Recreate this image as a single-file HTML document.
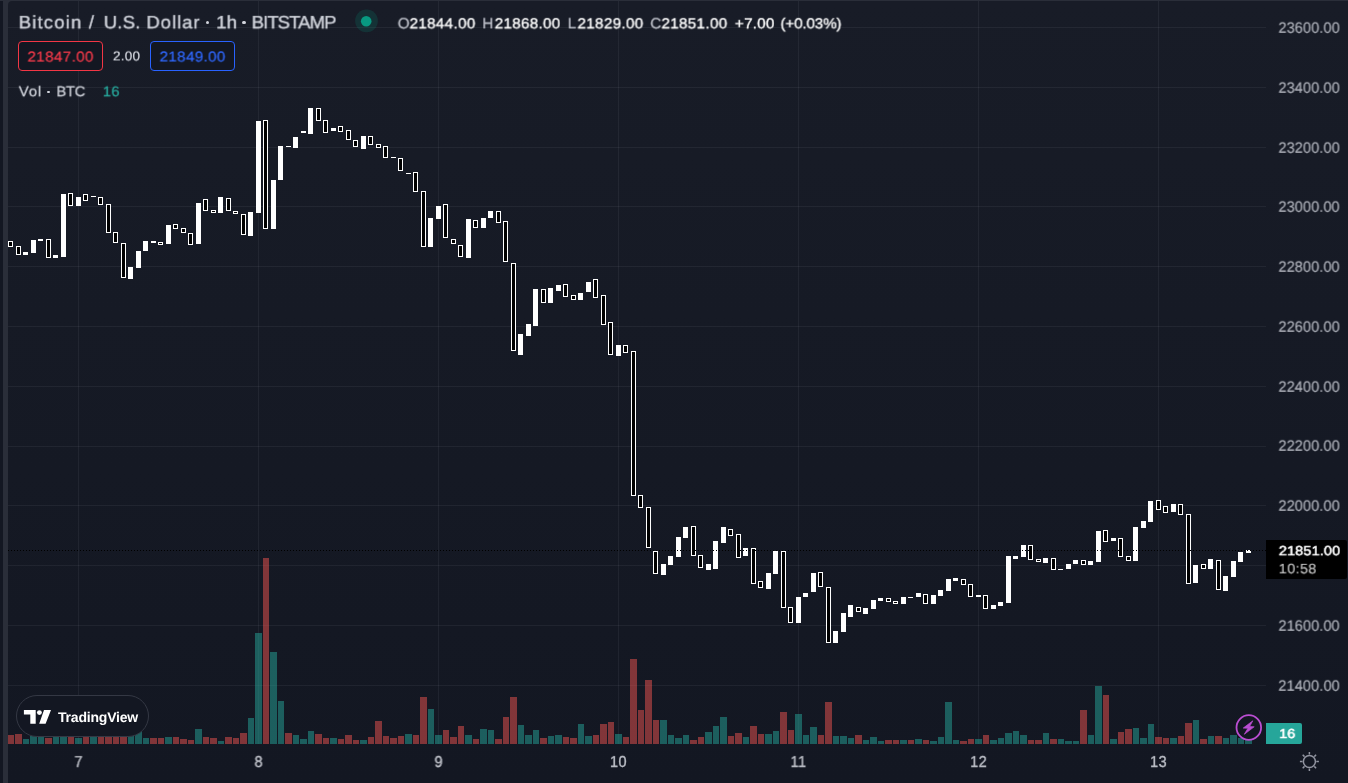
<!DOCTYPE html>
<html><head><meta charset="utf-8"><title>BTCUSD</title>
<style>
html,body{margin:0;padding:0;background:#131722}
body{width:1348px;height:783px;overflow:hidden;background:#131722;position:relative;font-family:"Liberation Sans",sans-serif}
.topb{position:absolute;left:0;top:0;width:1348px;height:1px;background:#2a2e39}
.leftb{position:absolute;left:3px;top:0;width:5px;height:783px;background:#2a2e39}
.pane{position:absolute;left:8px;top:1px;width:1340px;height:782px;background:linear-gradient(180deg,#181c27 0%,#131722 100%);border-top-left-radius:4px}
.cv{position:absolute;left:0;top:0}
.t{position:absolute;white-space:nowrap;line-height:18px;height:18px;will-change:transform;text-rendering:geometricPrecision;transform-origin:0 50%}
.ax{font-size:14.6px;letter-spacing:0.1px;color:#b2b5be;transform-origin:50% 50%;transform:translateY(1px) scaleY(1.13)}
.day{font-size:14.6px;color:#b2b5be;width:40px;text-align:center;transform-origin:50% 50%;transform:scaleY(1.08)}
.g-title{font-size:18.60px;color:#d1d4dc;-webkit-text-stroke:0.35px #d1d4dc}
.g-ohlcL{font-size:15.30px;color:#c1c4cd;-webkit-text-stroke:0.2px #c1c4cd}
.g-ohlcV{font-size:15.30px;color:#ffffff;-webkit-text-stroke:0.3px #ffffff}
.g-sell{font-size:15.30px;color:#f73949;-webkit-text-stroke:0.18px #f73949}
.g-buy{font-size:15.30px;color:#2e67ff;-webkit-text-stroke:0.18px #2e67ff}
.g-spread{font-size:13.60px;color:#d8dbe3;-webkit-text-stroke:0.2px #d8dbe3}
.g-vol{font-size:14.80px;color:#d1d4dc;-webkit-text-stroke:0.25px #d1d4dc}
.g-volv{font-size:14.80px;color:#26a69a;-webkit-text-stroke:0.25px #26a69a}
.g-pl1{font-size:14.60px;color:#ffffff;-webkit-text-stroke:0.5px #ffffff}
.g-pl2{font-size:14.60px;color:#c8c8c8;-webkit-text-stroke:0.1px #c8c8c8}
.g-vl{font-size:14.60px;color:#ffffff;-webkit-text-stroke:0.55px #ffffff}
.g-ax{font-size:14.60px;color:#b2b5be;-webkit-text-stroke:0.12px #b2b5be}
.g-day{font-size:14.60px;color:#c0c3cb;-webkit-text-stroke:0.3px #c0c3cb}

.dot{position:absolute;left:355px;top:9.4px;width:23px;height:23px;border-radius:50%;background:rgba(8,153,129,0.18)}
.dot i{position:absolute;left:5.95px;top:6.5px;width:10.5px;height:10.5px;border-radius:50%;background:#089981}
.mdot{position:absolute;width:3.4px;height:3.4px;border-radius:50%;background:#d1d4dc}
.box{position:absolute;top:41px;width:83px;height:28px;border:1px solid;border-radius:4px;background:#131722}
.sellb{left:18px;border-color:#f23645}
.buyb{left:150px;border-color:#2962ff}
.plabel{position:absolute;left:1266px;top:540px;width:81px;height:39px;background:#000;border-radius:0 2px 2px 0}
.vlabel{position:absolute;left:1266px;top:723px;width:36px;height:21px;background:#26a69a;border-radius:0 2px 2px 0}
.pill{position:absolute;left:16px;top:695px;width:131px;height:40px;border:1px solid #343844;border-radius:21px;background:#131722}
.pill svg{position:absolute;left:7px;top:11px}
.pill .t{left:41px;top:12px;font-size:14px;font-weight:bold;color:#fff;letter-spacing:-0.2px}
</style></head><body>
<div class="topb"></div><div class="leftb"></div><div style="position:absolute;left:8px;top:1px;width:6px;height:6px;background:#2a2e39"></div><div class="pane"></div>
<svg class="cv" width="1348" height="783" viewBox="0 0 1348 783" shape-rendering="crispEdges"><g fill="#f0f3fa" fill-opacity="0.06"><rect x="8" y="27" width="1258" height="1"/><rect x="8" y="87" width="1258" height="1"/><rect x="8" y="147" width="1258" height="1"/><rect x="8" y="206" width="1258" height="1"/><rect x="8" y="266" width="1258" height="1"/><rect x="8" y="326" width="1258" height="1"/><rect x="8" y="386" width="1258" height="1"/><rect x="8" y="446" width="1258" height="1"/><rect x="8" y="505" width="1258" height="1"/><rect x="8" y="565" width="1258" height="1"/><rect x="8" y="625" width="1258" height="1"/><rect x="8" y="685" width="1258" height="1"/><rect x="78" y="1" width="1" height="743"/><rect x="258" y="1" width="1" height="743"/><rect x="438" y="1" width="1" height="743"/><rect x="618" y="1" width="1" height="743"/><rect x="798" y="1" width="1" height="743"/><rect x="978" y="1" width="1" height="743"/><rect x="1158" y="1" width="1" height="743"/></g><g fill="#26a69a" fill-opacity="0.5"><rect x="23" y="739" width="6" height="5"/><rect x="30" y="736" width="7" height="8"/><rect x="38" y="736" width="6" height="8"/><rect x="53" y="737" width="6" height="7"/><rect x="60" y="736" width="7" height="8"/><rect x="75" y="738" width="7" height="6"/><rect x="90" y="736" width="7" height="8"/><rect x="128" y="735" width="6" height="9"/><rect x="135" y="731" width="7" height="13"/><rect x="143" y="738" width="6" height="6"/><rect x="165" y="737" width="7" height="7"/><rect x="195" y="729" width="7" height="15"/><rect x="218" y="741" width="6" height="3"/><rect x="248" y="718" width="6" height="26"/><rect x="255" y="633" width="7" height="111"/><rect x="270" y="652" width="7" height="92"/><rect x="278" y="701" width="6" height="43"/><rect x="293" y="735" width="6" height="9"/><rect x="300" y="739" width="7" height="5"/><rect x="308" y="731" width="6" height="13"/><rect x="330" y="738" width="7" height="6"/><rect x="360" y="740" width="7" height="4"/><rect x="405" y="734" width="7" height="10"/><rect x="428" y="709" width="6" height="35"/><rect x="435" y="735" width="7" height="9"/><rect x="465" y="735" width="7" height="9"/><rect x="480" y="729" width="7" height="15"/><rect x="488" y="730" width="6" height="14"/><rect x="518" y="725" width="6" height="19"/><rect x="525" y="735" width="7" height="9"/><rect x="533" y="730" width="6" height="14"/><rect x="548" y="736" width="6" height="8"/><rect x="555" y="735" width="7" height="9"/><rect x="578" y="724" width="6" height="20"/><rect x="585" y="736" width="7" height="8"/><rect x="615" y="734" width="7" height="10"/><rect x="660" y="720" width="7" height="24"/><rect x="668" y="735" width="6" height="9"/><rect x="675" y="738" width="7" height="6"/><rect x="683" y="735" width="6" height="9"/><rect x="705" y="732" width="7" height="12"/><rect x="713" y="726" width="6" height="18"/><rect x="720" y="717" width="7" height="27"/><rect x="743" y="737" width="6" height="7"/><rect x="765" y="734" width="7" height="10"/><rect x="773" y="731" width="6" height="13"/><rect x="795" y="714" width="7" height="30"/><rect x="803" y="735" width="6" height="9"/><rect x="810" y="727" width="7" height="17"/><rect x="833" y="736" width="6" height="8"/><rect x="840" y="736" width="7" height="8"/><rect x="848" y="738" width="6" height="6"/><rect x="863" y="740" width="6" height="4"/><rect x="870" y="737" width="7" height="7"/><rect x="878" y="741" width="6" height="3"/><rect x="900" y="740" width="7" height="4"/><rect x="915" y="739" width="7" height="5"/><rect x="930" y="741" width="7" height="3"/><rect x="938" y="737" width="6" height="7"/><rect x="945" y="702" width="7" height="42"/><rect x="953" y="740" width="6" height="4"/><rect x="975" y="739" width="7" height="5"/><rect x="990" y="740" width="7" height="4"/><rect x="998" y="738" width="6" height="6"/><rect x="1005" y="733" width="7" height="11"/><rect x="1013" y="731" width="6" height="13"/><rect x="1020" y="735" width="7" height="9"/><rect x="1043" y="733" width="6" height="11"/><rect x="1058" y="739" width="6" height="5"/><rect x="1065" y="741" width="7" height="3"/><rect x="1073" y="741" width="6" height="3"/><rect x="1088" y="735" width="6" height="9"/><rect x="1095" y="686" width="7" height="58"/><rect x="1110" y="739" width="7" height="5"/><rect x="1133" y="728" width="6" height="16"/><rect x="1140" y="738" width="7" height="6"/><rect x="1148" y="724" width="6" height="20"/><rect x="1170" y="738" width="7" height="6"/><rect x="1193" y="720" width="6" height="24"/><rect x="1208" y="736" width="6" height="8"/><rect x="1223" y="738" width="6" height="6"/><rect x="1230" y="735" width="7" height="9"/><rect x="1238" y="738" width="6" height="6"/><rect x="1245" y="740" width="7" height="4"/></g><g fill="#ef5350" fill-opacity="0.5"><rect x="8" y="735" width="6" height="9"/><rect x="15" y="734" width="7" height="10"/><rect x="45" y="738" width="7" height="6"/><rect x="68" y="736" width="6" height="8"/><rect x="83" y="736" width="6" height="8"/><rect x="98" y="736" width="6" height="8"/><rect x="105" y="736" width="7" height="8"/><rect x="113" y="736" width="6" height="8"/><rect x="120" y="736" width="7" height="8"/><rect x="150" y="738" width="7" height="6"/><rect x="158" y="738" width="6" height="6"/><rect x="173" y="737" width="6" height="7"/><rect x="180" y="739" width="7" height="5"/><rect x="188" y="740" width="6" height="4"/><rect x="203" y="737" width="6" height="7"/><rect x="210" y="738" width="7" height="6"/><rect x="225" y="737" width="7" height="7"/><rect x="233" y="738" width="6" height="6"/><rect x="240" y="733" width="7" height="11"/><rect x="263" y="558" width="6" height="186"/><rect x="285" y="733" width="7" height="11"/><rect x="315" y="734" width="7" height="10"/><rect x="323" y="738" width="6" height="6"/><rect x="338" y="739" width="6" height="5"/><rect x="345" y="735" width="7" height="9"/><rect x="353" y="740" width="6" height="4"/><rect x="368" y="737" width="6" height="7"/><rect x="375" y="721" width="7" height="23"/><rect x="383" y="736" width="6" height="8"/><rect x="390" y="738" width="7" height="6"/><rect x="398" y="736" width="6" height="8"/><rect x="413" y="735" width="6" height="9"/><rect x="420" y="697" width="7" height="47"/><rect x="443" y="730" width="6" height="14"/><rect x="450" y="737" width="7" height="7"/><rect x="458" y="726" width="6" height="18"/><rect x="473" y="739" width="6" height="5"/><rect x="495" y="739" width="7" height="5"/><rect x="503" y="717" width="6" height="27"/><rect x="510" y="697" width="7" height="47"/><rect x="540" y="738" width="7" height="6"/><rect x="563" y="737" width="6" height="7"/><rect x="570" y="738" width="7" height="6"/><rect x="593" y="735" width="6" height="9"/><rect x="600" y="724" width="7" height="20"/><rect x="608" y="722" width="6" height="22"/><rect x="623" y="737" width="6" height="7"/><rect x="630" y="659" width="7" height="85"/><rect x="638" y="710" width="6" height="34"/><rect x="645" y="680" width="7" height="64"/><rect x="653" y="720" width="6" height="24"/><rect x="690" y="740" width="7" height="4"/><rect x="698" y="737" width="6" height="7"/><rect x="728" y="736" width="6" height="8"/><rect x="735" y="733" width="7" height="11"/><rect x="750" y="726" width="7" height="18"/><rect x="758" y="734" width="6" height="10"/><rect x="780" y="712" width="7" height="32"/><rect x="788" y="730" width="6" height="14"/><rect x="818" y="735" width="6" height="9"/><rect x="825" y="702" width="7" height="42"/><rect x="855" y="735" width="7" height="9"/><rect x="885" y="740" width="7" height="4"/><rect x="893" y="740" width="6" height="4"/><rect x="908" y="740" width="6" height="4"/><rect x="923" y="740" width="6" height="4"/><rect x="960" y="741" width="7" height="3"/><rect x="968" y="739" width="6" height="5"/><rect x="983" y="735" width="6" height="9"/><rect x="1028" y="740" width="6" height="4"/><rect x="1035" y="740" width="7" height="4"/><rect x="1050" y="739" width="7" height="5"/><rect x="1080" y="710" width="7" height="34"/><rect x="1103" y="695" width="6" height="49"/><rect x="1118" y="732" width="6" height="12"/><rect x="1125" y="729" width="7" height="15"/><rect x="1155" y="737" width="7" height="7"/><rect x="1163" y="738" width="6" height="6"/><rect x="1178" y="736" width="6" height="8"/><rect x="1185" y="723" width="7" height="21"/><rect x="1200" y="739" width="7" height="5"/><rect x="1215" y="736" width="7" height="8"/></g><g fill="#fff"><rect x="8" y="241" width="5" height="6"/><rect x="16" y="246" width="5" height="9"/><rect x="23" y="252" width="5" height="3"/><rect x="31" y="240" width="5" height="13"/><rect x="38" y="239" width="5" height="2"/><rect x="46" y="239" width="5" height="19"/><rect x="53" y="255" width="5" height="3"/><rect x="61" y="194" width="5" height="63"/><rect x="68" y="193" width="5" height="13"/><rect x="76" y="197" width="5" height="9"/><rect x="83" y="194" width="5" height="7"/><rect x="91" y="196" width="5" height="1"/><rect x="98" y="197" width="5" height="8"/><rect x="106" y="204" width="5" height="29"/><rect x="113" y="232" width="5" height="11"/><rect x="121" y="243" width="5" height="35"/><rect x="128" y="267" width="5" height="12"/><rect x="136" y="251" width="5" height="17"/><rect x="143" y="241" width="5" height="10"/><rect x="151" y="241" width="5" height="2"/><rect x="158" y="242" width="5" height="3"/><rect x="166" y="225" width="5" height="19"/><rect x="173" y="224" width="5" height="5"/><rect x="181" y="228" width="5" height="5"/><rect x="188" y="233" width="5" height="12"/><rect x="196" y="203" width="5" height="41"/><rect x="203" y="199" width="5" height="12"/><rect x="211" y="210" width="5" height="3"/><rect x="218" y="197" width="5" height="16"/><rect x="226" y="198" width="5" height="13"/><rect x="233" y="211" width="5" height="3"/><rect x="241" y="214" width="5" height="21"/><rect x="248" y="212" width="5" height="24"/><rect x="256" y="121" width="5" height="92"/><rect x="263" y="120" width="5" height="109"/><rect x="271" y="180" width="5" height="49"/><rect x="278" y="146" width="5" height="34"/><rect x="286" y="146" width="5" height="1"/><rect x="293" y="137" width="5" height="11"/><rect x="301" y="131" width="5" height="2"/><rect x="308" y="108" width="5" height="26"/><rect x="316" y="108" width="5" height="13"/><rect x="323" y="120" width="5" height="13"/><rect x="331" y="128" width="5" height="3"/><rect x="338" y="126" width="5" height="6"/><rect x="346" y="130" width="5" height="10"/><rect x="353" y="140" width="5" height="7"/><rect x="361" y="136" width="5" height="13"/><rect x="368" y="136" width="5" height="9"/><rect x="376" y="144" width="5" height="4"/><rect x="383" y="146" width="5" height="12"/><rect x="391" y="157" width="5" height="1"/><rect x="398" y="158" width="5" height="13"/><rect x="406" y="173" width="5" height="1"/><rect x="413" y="172" width="5" height="20"/><rect x="421" y="191" width="5" height="56"/><rect x="428" y="218" width="5" height="29"/><rect x="436" y="206" width="5" height="13"/><rect x="443" y="204" width="5" height="34"/><rect x="451" y="239" width="5" height="5"/><rect x="458" y="245" width="5" height="12"/><rect x="466" y="219" width="5" height="39"/><rect x="473" y="220" width="5" height="8"/><rect x="481" y="218" width="5" height="10"/><rect x="488" y="211" width="5" height="7"/><rect x="496" y="211" width="5" height="12"/><rect x="503" y="221" width="5" height="41"/><rect x="511" y="263" width="5" height="88"/><rect x="518" y="334" width="5" height="21"/><rect x="526" y="324" width="5" height="12"/><rect x="533" y="289" width="5" height="37"/><rect x="541" y="289" width="5" height="14"/><rect x="548" y="288" width="5" height="15"/><rect x="556" y="285" width="5" height="6"/><rect x="563" y="284" width="5" height="13"/><rect x="571" y="295" width="5" height="5"/><rect x="578" y="293" width="5" height="7"/><rect x="586" y="282" width="5" height="10"/><rect x="593" y="279" width="5" height="19"/><rect x="601" y="295" width="5" height="30"/><rect x="608" y="322" width="5" height="33"/><rect x="616" y="345" width="5" height="11"/><rect x="623" y="345" width="5" height="8"/><rect x="631" y="351" width="5" height="145"/><rect x="638" y="495" width="5" height="13"/><rect x="646" y="507" width="5" height="41"/><rect x="653" y="551" width="5" height="23"/><rect x="661" y="564" width="5" height="11"/><rect x="668" y="556" width="5" height="9"/><rect x="676" y="537" width="5" height="20"/><rect x="683" y="527" width="5" height="11"/><rect x="691" y="526" width="5" height="30"/><rect x="698" y="555" width="5" height="13"/><rect x="706" y="564" width="5" height="6"/><rect x="713" y="541" width="5" height="28"/><rect x="721" y="527" width="5" height="16"/><rect x="728" y="529" width="5" height="7"/><rect x="736" y="534" width="5" height="24"/><rect x="743" y="548" width="5" height="8"/><rect x="751" y="548" width="5" height="36"/><rect x="758" y="581" width="5" height="7"/><rect x="766" y="573" width="5" height="16"/><rect x="773" y="551" width="5" height="23"/><rect x="781" y="551" width="5" height="57"/><rect x="788" y="607" width="5" height="16"/><rect x="796" y="597" width="5" height="26"/><rect x="803" y="593" width="5" height="4"/><rect x="811" y="573" width="5" height="19"/><rect x="818" y="572" width="5" height="15"/><rect x="826" y="587" width="5" height="56"/><rect x="833" y="631" width="5" height="12"/><rect x="841" y="613" width="5" height="19"/><rect x="848" y="605" width="5" height="12"/><rect x="856" y="607" width="5" height="5"/><rect x="863" y="608" width="5" height="6"/><rect x="871" y="600" width="5" height="9"/><rect x="878" y="598" width="5" height="3"/><rect x="886" y="598" width="5" height="4"/><rect x="893" y="601" width="5" height="3"/><rect x="901" y="597" width="5" height="7"/><rect x="908" y="597" width="5" height="1"/><rect x="916" y="593" width="5" height="4"/><rect x="923" y="594" width="5" height="10"/><rect x="931" y="595" width="5" height="9"/><rect x="938" y="590" width="5" height="6"/><rect x="946" y="579" width="5" height="12"/><rect x="953" y="578" width="5" height="3"/><rect x="961" y="579" width="5" height="6"/><rect x="968" y="584" width="5" height="13"/><rect x="976" y="595" width="5" height="2"/><rect x="983" y="595" width="5" height="14"/><rect x="991" y="605" width="5" height="4"/><rect x="998" y="602" width="5" height="4"/><rect x="1006" y="556" width="5" height="47"/><rect x="1013" y="556" width="5" height="3"/><rect x="1021" y="545" width="5" height="12"/><rect x="1028" y="545" width="5" height="15"/><rect x="1036" y="559" width="5" height="3"/><rect x="1043" y="558" width="5" height="5"/><rect x="1051" y="558" width="5" height="12"/><rect x="1058" y="569" width="5" height="1"/><rect x="1066" y="564" width="5" height="5"/><rect x="1073" y="560" width="5" height="4"/><rect x="1081" y="560" width="5" height="5"/><rect x="1088" y="561" width="5" height="4"/><rect x="1096" y="531" width="5" height="31"/><rect x="1103" y="530" width="5" height="12"/><rect x="1111" y="538" width="5" height="3"/><rect x="1118" y="538" width="5" height="19"/><rect x="1126" y="556" width="5" height="5"/><rect x="1133" y="527" width="5" height="34"/><rect x="1141" y="521" width="5" height="7"/><rect x="1148" y="501" width="5" height="21"/><rect x="1156" y="500" width="5" height="10"/><rect x="1163" y="506" width="5" height="7"/><rect x="1171" y="504" width="5" height="8"/><rect x="1178" y="504" width="5" height="11"/><rect x="1186" y="514" width="5" height="70"/><rect x="1193" y="565" width="5" height="18"/><rect x="1201" y="564" width="5" height="5"/><rect x="1208" y="559" width="5" height="10"/><rect x="1216" y="560" width="5" height="30"/><rect x="1223" y="576" width="5" height="15"/><rect x="1231" y="561" width="5" height="16"/><rect x="1238" y="552" width="5" height="10"/><rect x="1246" y="550" width="5" height="3"/></g><g fill="#000"><rect x="9" y="242" width="3" height="4"/><rect x="17" y="247" width="3" height="7"/><rect x="47" y="240" width="3" height="17"/><rect x="69" y="194" width="3" height="11"/><rect x="84" y="195" width="3" height="5"/><rect x="99" y="198" width="3" height="6"/><rect x="107" y="205" width="3" height="27"/><rect x="114" y="233" width="3" height="9"/><rect x="122" y="244" width="3" height="33"/><rect x="159" y="243" width="3" height="1"/><rect x="174" y="225" width="3" height="3"/><rect x="182" y="229" width="3" height="3"/><rect x="189" y="234" width="3" height="10"/><rect x="204" y="200" width="3" height="10"/><rect x="212" y="211" width="3" height="1"/><rect x="227" y="199" width="3" height="11"/><rect x="234" y="212" width="3" height="1"/><rect x="242" y="215" width="3" height="19"/><rect x="264" y="121" width="3" height="107"/><rect x="317" y="109" width="3" height="11"/><rect x="324" y="121" width="3" height="11"/><rect x="339" y="127" width="3" height="4"/><rect x="347" y="131" width="3" height="8"/><rect x="354" y="141" width="3" height="5"/><rect x="369" y="137" width="3" height="7"/><rect x="377" y="145" width="3" height="2"/><rect x="384" y="147" width="3" height="10"/><rect x="399" y="159" width="3" height="11"/><rect x="414" y="173" width="3" height="18"/><rect x="422" y="192" width="3" height="54"/><rect x="444" y="205" width="3" height="32"/><rect x="452" y="240" width="3" height="3"/><rect x="459" y="246" width="3" height="10"/><rect x="474" y="221" width="3" height="6"/><rect x="497" y="212" width="3" height="10"/><rect x="504" y="222" width="3" height="39"/><rect x="512" y="264" width="3" height="86"/><rect x="542" y="290" width="3" height="12"/><rect x="564" y="285" width="3" height="11"/><rect x="572" y="296" width="3" height="3"/><rect x="594" y="280" width="3" height="17"/><rect x="602" y="296" width="3" height="28"/><rect x="609" y="323" width="3" height="31"/><rect x="624" y="346" width="3" height="6"/><rect x="632" y="352" width="3" height="143"/><rect x="639" y="496" width="3" height="11"/><rect x="647" y="508" width="3" height="39"/><rect x="654" y="552" width="3" height="21"/><rect x="692" y="527" width="3" height="28"/><rect x="699" y="556" width="3" height="11"/><rect x="729" y="530" width="3" height="5"/><rect x="737" y="535" width="3" height="22"/><rect x="752" y="549" width="3" height="34"/><rect x="759" y="582" width="3" height="5"/><rect x="782" y="552" width="3" height="55"/><rect x="789" y="608" width="3" height="14"/><rect x="819" y="573" width="3" height="13"/><rect x="827" y="588" width="3" height="54"/><rect x="857" y="608" width="3" height="3"/><rect x="887" y="599" width="3" height="2"/><rect x="894" y="602" width="3" height="1"/><rect x="924" y="595" width="3" height="8"/><rect x="962" y="580" width="3" height="4"/><rect x="969" y="585" width="3" height="11"/><rect x="984" y="596" width="3" height="12"/><rect x="1029" y="546" width="3" height="13"/><rect x="1037" y="560" width="3" height="1"/><rect x="1052" y="559" width="3" height="10"/><rect x="1082" y="561" width="3" height="3"/><rect x="1104" y="531" width="3" height="10"/><rect x="1119" y="539" width="3" height="17"/><rect x="1127" y="557" width="3" height="3"/><rect x="1157" y="501" width="3" height="8"/><rect x="1164" y="507" width="3" height="5"/><rect x="1179" y="505" width="3" height="9"/><rect x="1187" y="515" width="3" height="68"/><rect x="1202" y="565" width="3" height="3"/><rect x="1217" y="561" width="3" height="28"/></g><line x1="8" y1="550.5" x2="1266" y2="550.5" stroke="#000" stroke-width="1" stroke-dasharray="1 2"/></svg>
<div class="mdot" style="left:205.9px;top:20.9px"></div><div class="mdot" style="left:242.2px;top:20.9px"></div>
<div class="mdot" style="left:47.4px;top:90.6px;width:2.8px;height:2.8px"></div>
<div class="box sellb"></div><div class="box buyb"></div>
<div class="plabel"></div><div class="vlabel"></div>

<div class="t g-title" style="left:0;top:0;letter-spacing:1.117px;transform:translate(18.69px,13.57px) rotate(0.02deg) scaleY(0.964)">Bitcoin</div><div class="t g-title" style="left:0;top:0;letter-spacing:0.000px;transform:translate(88.81px,13.57px) rotate(0.02deg) scaleY(0.964)">/</div><div class="t g-title" style="left:0;top:0;letter-spacing:0.167px;transform:translate(103.69px,13.57px) rotate(0.02deg) scaleY(0.964)">U.S.</div><div class="t g-title" style="left:0;top:0;letter-spacing:0.940px;transform:translate(146.40px,13.57px) rotate(0.02deg) scaleY(0.964)">Dollar</div><div class="t g-title" style="left:0;top:0;letter-spacing:0.200px;transform:translate(216.20px,13.57px) rotate(0.02deg) scaleY(0.964)">1h</div><div class="t g-title" style="left:0;top:0;letter-spacing:-0.943px;transform:translate(251.60px,13.57px) rotate(0.02deg) scaleY(0.964)">BITSTAMP</div><div class="t g-ohlcL" style="left:0;top:0;letter-spacing:0.000px;transform:translate(397.68px,15.51px) rotate(0.02deg) scaleY(0.983)">O</div><div class="t g-ohlcL" style="left:0;top:0;letter-spacing:0.000px;transform:translate(482.33px,15.51px) rotate(0.02deg) scaleY(0.983)">H</div><div class="t g-ohlcL" style="left:0;top:0;letter-spacing:0.000px;transform:translate(567.70px,15.51px) rotate(0.02deg) scaleY(0.983)">L</div><div class="t g-ohlcL" style="left:0;top:0;letter-spacing:0.000px;transform:translate(650.26px,15.51px) rotate(0.02deg) scaleY(0.983)">C</div><div class="t g-ohlcV" style="left:0;top:0;letter-spacing:0.271px;transform:translate(409.56px,15.54px) rotate(0.02deg) scaleY(0.957)">21844.00</div><div class="t g-ohlcV" style="left:0;top:0;letter-spacing:0.229px;transform:translate(494.68px,15.54px) rotate(0.02deg) scaleY(0.957)">21868.00</div><div class="t g-ohlcV" style="left:0;top:0;letter-spacing:0.286px;transform:translate(577.47px,15.54px) rotate(0.02deg) scaleY(0.957)">21829.00</div><div class="t g-ohlcV" style="left:0;top:0;letter-spacing:0.271px;transform:translate(661.47px,15.54px) rotate(0.02deg) scaleY(0.957)">21851.00</div><div class="t g-ohlcV" style="left:0;top:0;letter-spacing:0.200px;transform:translate(734.85px,15.54px) rotate(0.02deg) scaleY(0.957)">+7.00</div><div class="t g-ohlcV" style="left:0;top:0;letter-spacing:-0.186px;transform:translate(780.45px,15.54px) rotate(0.02deg) scaleY(0.957)">(+0.03%)</div><div class="t g-sell" style="left:0;top:0;letter-spacing:0.329px;transform:translate(27.44px,48.80px) rotate(0.02deg) scaleY(0.948)">21847.00</div><div class="t g-buy" style="left:0;top:0;letter-spacing:0.286px;transform:translate(159.55px,48.74px) rotate(0.02deg) scaleY(0.940)">21849.00</div><div class="t g-spread" style="left:0;top:0;letter-spacing:0.167px;transform:translate(112.96px,47.56px) rotate(0.02deg) scaleY(0.962)">2.00</div><div class="t g-vol" style="left:0;top:0;letter-spacing:0.900px;transform:translate(18.80px,83.37px) rotate(0.02deg) scaleY(0.966)">Vol</div><div class="t g-vol" style="left:0;top:0;letter-spacing:-0.300px;transform:translate(56.43px,83.37px) rotate(0.02deg) scaleY(0.966)">BTC</div><div class="t g-volv" style="left:0;top:0;letter-spacing:0.300px;transform:translate(102.79px,83.41px) rotate(0.02deg) scaleY(0.956)">16</div><div class="t g-pl1" style="left:0;top:0;letter-spacing:0.071px;transform:translate(1278.79px,542.59px) rotate(0.02deg) scaleY(0.904)">21851.00</div><div class="t g-pl2" style="left:0;top:0;letter-spacing:0.300px;transform:translate(1278.68px,560.57px) rotate(0.02deg) scaleY(0.955)">10:58</div><div class="t g-vl" style="left:0;top:0;letter-spacing:-0.200px;transform:translate(1279.22px,725.42px) rotate(0.02deg) scaleY(0.894)">16</div><div class="t g-ax" style="left:0;top:0;letter-spacing:0.057px;transform:translate(1278.46px,19.18px) rotate(0.02deg) scaleY(1.041)">23600.00</div><div class="t g-ax" style="left:0;top:0;letter-spacing:0.057px;transform:translate(1278.46px,79.18px) rotate(0.02deg) scaleY(1.041)">23400.00</div><div class="t g-ax" style="left:0;top:0;letter-spacing:0.057px;transform:translate(1278.46px,139.18px) rotate(0.02deg) scaleY(1.041)">23200.00</div><div class="t g-ax" style="left:0;top:0;letter-spacing:0.043px;transform:translate(1278.46px,198.18px) rotate(0.02deg) scaleY(1.041)">23000.00</div><div class="t g-ax" style="left:0;top:0;letter-spacing:0.043px;transform:translate(1278.46px,258.18px) rotate(0.02deg) scaleY(1.041)">22800.00</div><div class="t g-ax" style="left:0;top:0;letter-spacing:0.057px;transform:translate(1278.46px,318.18px) rotate(0.02deg) scaleY(1.041)">22600.00</div><div class="t g-ax" style="left:0;top:0;letter-spacing:0.057px;transform:translate(1278.46px,378.18px) rotate(0.02deg) scaleY(1.041)">22400.00</div><div class="t g-ax" style="left:0;top:0;letter-spacing:0.057px;transform:translate(1278.46px,437.18px) rotate(0.02deg) scaleY(1.041)">22200.00</div><div class="t g-ax" style="left:0;top:0;letter-spacing:0.057px;transform:translate(1278.46px,497.18px) rotate(0.02deg) scaleY(1.041)">22000.00</div><div class="t g-ax" style="left:0;top:0;letter-spacing:0.043px;transform:translate(1278.46px,617.18px) rotate(0.02deg) scaleY(1.041)">21600.00</div><div class="t g-ax" style="left:0;top:0;letter-spacing:0.086px;transform:translate(1278.35px,677.18px) rotate(0.02deg) scaleY(1.041)">21400.00</div><div class="t g-day" style="left:0;top:0;letter-spacing:0.400px;transform:translate(74.46px,753.63px) rotate(0.02deg) scaleY(1.079)">7</div><div class="t g-day" style="left:0;top:0;letter-spacing:0.400px;transform:translate(254.51px,753.63px) rotate(0.02deg) scaleY(1.079)">8</div><div class="t g-day" style="left:0;top:0;letter-spacing:0.400px;transform:translate(434.51px,753.63px) rotate(0.02deg) scaleY(1.079)">9</div><div class="t g-day" style="left:0;top:0;letter-spacing:0.400px;transform:translate(609.95px,753.63px) rotate(0.02deg) scaleY(1.079)">10</div><div class="t g-day" style="left:0;top:0;letter-spacing:0.400px;transform:translate(790.52px,753.63px) rotate(0.02deg) scaleY(1.079)">11</div><div class="t g-day" style="left:0;top:0;letter-spacing:0.400px;transform:translate(970.18px,753.63px) rotate(0.02deg) scaleY(1.079)">12</div><div class="t g-day" style="left:0;top:0;letter-spacing:0.400px;transform:translate(1150.07px,753.63px) rotate(0.02deg) scaleY(1.079)">13</div>
<div class="pill"><div class="t">TradingView</div></div>
<svg class="cv" width="1348" height="783" viewBox="0 0 1348 783">
<circle cx="366.5" cy="20.9" r="11.35" fill="#089981" fill-opacity="0.18"/><circle cx="366.2" cy="21.2" r="5.3" fill="#089981"/>
<path fill="#fff" d="M23.9 710.1H35.7V723.8H30.3V714.6H23.9ZM44 710.1H51L45.6 723.8H39.2Z"/><circle cx="39.4" cy="712.6" r="2.45" fill="#fff"/>
<circle cx="1248.8" cy="727.5" r="12.3" fill="#131722" stroke="#ba4ed2" stroke-width="1.8"/>
<path d="M1252.8 720.8 L1243.2 728.1 L1247.9 728.3 L1244.3 734.3 L1254.2 726.8 L1249.6 726.6 Z" fill="#ba4ed2" stroke="#ba4ed2" stroke-width="0.7" stroke-linejoin="round"/>
<g stroke="#9194a0" stroke-width="1.5" fill="none"><circle cx="1309.4" cy="761.5" r="6"/>
<path d="M1309.4 752v2.6M1309.4 768.4v2.6M1299.9 761.5h2.6M1316.3 761.5h2.6M1302.7 754.8l1.8 1.8M1314.3 766.4l1.8 1.8M1302.7 768.2l1.8 -1.8M1314.3 756.6l1.8 -1.8"/></g>
</svg>
</body></html>
